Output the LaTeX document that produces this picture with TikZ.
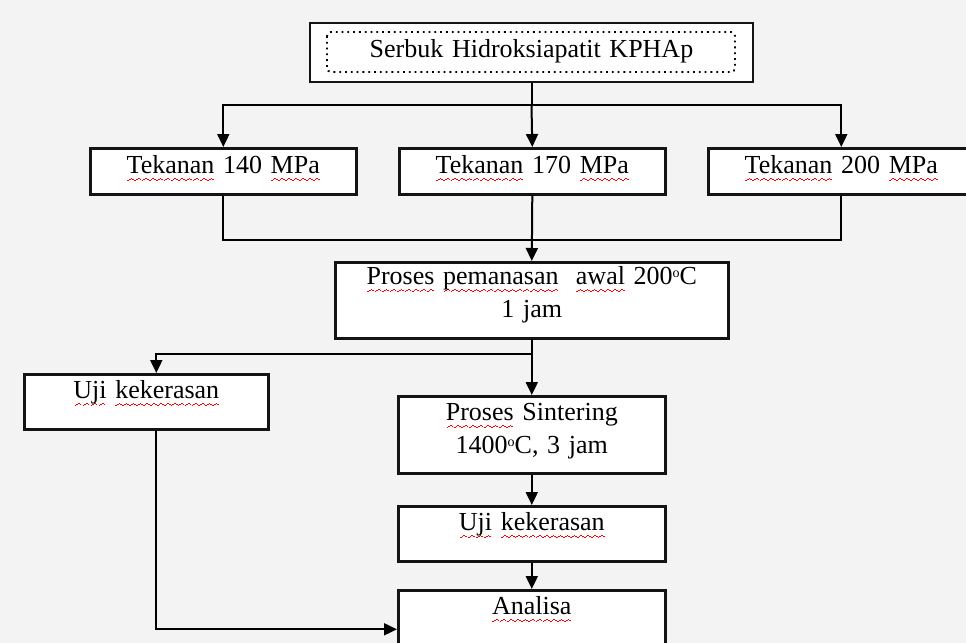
\documentclass[tikz,border=0pt]{standalone}
\usepackage{fontspec}
\setmainfont{Liberation Serif}
\usetikzlibrary{calc,arrows.meta}
\definecolor{latar}{RGB}{243,243,243}
\definecolor{garis}{RGB}{20,20,20}
\newsavebox{\katabox}
% garis merah bergelombang di bawah kata
\newcommand{\ombak}{\hbox{\rule[-3.7pt]{0.85pt}{0.5pt}\rule[-3.2pt]{0.85pt}{0.5pt}\rule[-2.7pt]{0.85pt}{0.5pt}\rule[-3.2pt]{0.85pt}{0.5pt}}}
\newcommand{\salah}[1]{\sbox{\katabox}{#1}\rlap{\raisebox{0pt}[0pt][0pt]{\textcolor{red}{\hbox to \wd\katabox{\xleaders\ombak\hfill}}}}\usebox{\katabox}}
\newcommand{\derajat}{\raisebox{0.28em}{\fontsize{7}{7}\selectfont o}}
\tikzset{
  kotak/.style={draw=garis, line width=1.3pt, fill=white, anchor=north west,
    inner sep=0pt, align=center, font=\fontsize{13}{16.5}\selectfont},
  panah/.style={line width=1pt, -{Triangle[length=6.5pt,width=6pt]}},
  garisan/.style={line width=1pt},
}
\begin{document}
\begin{tikzpicture}[x=0.5pt, y=-0.5pt]
  \fill[latar] (0,0) rectangle (966,643);
  \useasboundingbox (0,0) rectangle (966,643);
  % kotak bahan
  \node[kotak, line width=1pt, text width=221.5pt, text height=17pt, text depth=12.5pt] (serbuk) at (309,22) {Serbuk Hidroksiapatit KPHAp};
  \draw[dotted, line width=0.9pt, rounded corners=2pt] ($(serbuk.north west)+(18,10)$) rectangle ($(serbuk.south east)+(-19,-11)$);
  % tiga tekanan
  \foreach \p/\x in {140/89, 170/398, 200/707}{
    \node[kotak, text width=133pt, text height=12.5pt, text depth=10.5pt] (t\p) at (\x,147) {\salah{Tekanan} \p\ \salah{MPa}};
  }
  \node[kotak, text width=196.5pt, text height=11pt, text depth=27pt] (panas) at (334,261)
    {\salah{Proses} \salah{pemanasan}\ \ \salah{awal} 200\derajat C\\1 jam};
  \node[kotak, text width=122pt, text height=12pt, text depth=15.5pt] (ujiA) at (23,373) {\salah{Uji} \salah{kekerasan}};
  \node[kotak, text width=133.5pt, text height=12pt, text depth=26.5pt] (sinter) at (397,395)
    {\salah{Proses} Sintering\\1400\derajat C, 3 jam};
  \node[kotak, text width=133.5pt, text height=12pt, text depth=15.5pt] (ujiB) at (397,505) {\salah{Uji} \salah{kekerasan}};
  \node[kotak, text width=133.5pt, text height=12pt, text depth=27pt] (analisa) at (397,589) {\salah{Analisa}};
  % garis penghubung
  \draw[garisan] (serbuk.south) -- ++(0,22) coordinate (cabang);
  \draw[panah] (cabang) -| (t140.north);
  \draw[panah] (cabang) -| (t200.north);
  \draw[panah] (cabang) -- (t170.north);
  \draw[garisan] (t140.south) -- ++(0,44) -| (t200.south);
  \draw[panah] (t170.south) -- (panas.north);
  \draw[panah] (panas.south) -- (sinter.north);
  \draw[panah] ($(panas.south)+(0,14)$) -| ($(ujiA.north)+(10,0)$);
  \draw[panah] (sinter.south) -- (ujiB.north);
  \draw[panah] (ujiB.south) -- (analisa.north);
  \draw[panah] ($(ujiA.south)+(10,0)$) |- (analisa.west);
\end{tikzpicture}
\end{document}
